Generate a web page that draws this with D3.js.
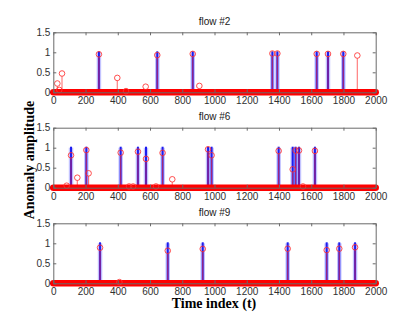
<!DOCTYPE html>
<html>
<head>
<meta charset="utf-8">
<script src="https://cdn.jsdelivr.net/npm/d3@7"></script>
<style>
  body { margin: 0; background: #fff; }
  svg { display: block; }
</style>
</head>
<body>
<div id="chart"></div>
<script>
// panel titles
const flowTitles = ["flow #2", "flow #6", "flow #9"];

// true anomaly positions (blue stems, amplitude 1)
const trueT2 = [283, 645, 865, 1359, 1390, 1634, 1704, 1799];
const trueT6 = [110, 205, 418, 525, 575, 678, 960, 982, 1398, 1485, 1503, 1524, 1623];
const trueT9 = [290, 710, 927, 1454, 1696, 1774, 1872];
const trueAmp = 1;

// estimated anomalies (red stems + circles)
const estT2 = [25, 37, 54, 283, 397, 451, 573, 645, 865, 906, 1359, 1390, 1634, 1704, 1799, 1886];
const estV2 = [0.22, 0.06, 0.47, 0.95, 0.36, 0.03, 0.14, 0.93, 0.96, 0.16, 0.97, 0.97, 0.96, 0.96, 0.96, 0.92];
const estT6 = [83, 110, 149, 205, 219, 418, 470, 495, 525, 575, 637, 678, 738, 960, 982, 1398, 1485, 1503, 1524, 1549, 1623];
const estV6 = [0.05, 0.81, 0.25, 0.94, 0.36, 0.875, 0.03, 0.03, 0.9, 0.72, 0.03, 0.87, 0.21, 0.96, 0.81, 0.92, 0.46, 0.93, 0.93, 0.03, 0.92];
const estT9 = [290, 410, 710, 927, 1454, 1696, 1774, 1872];
const estV9 = [0.89, 0.03, 0.815, 0.86, 0.865, 0.83, 0.865, 0.9];

// axis ticks
const xTicks = [0, 200, 400, 600, 800, 1000, 1200, 1400, 1600, 1800, 2000];
const yTicks = [0, 0.5, 1, 1.5];

const width = 415, height = 319;
const panelTops = [32.3, 127.7, 223.3];
const panelH = 60;

const panels = [
  {title: flowTitles[0], trueT: trueT2, estT: estT2, estV: estV2},
  {title: flowTitles[1], trueT: trueT6, estT: estT6, estV: estV6},
  {title: flowTitles[2], trueT: trueT9, estT: estT9, estV: estV9}
];

const svg = d3.select('#chart')
  .append('svg')
  .attr('width', width)
  .attr('height', height)
  .style('background', '#fff');

const x = d3.scaleLinear().domain([0, 2000]).range([53.3, 375.7]);

const tickFont = "'Liberation Sans Narrow', 'Liberation Sans', Arial, sans-serif";
const boxColor = '#6a6a6a';

panels.forEach((p, i) => {
  const top = panelTops[i];
  const y = d3.scaleLinear().domain([0, 1.5]).range([top + panelH, top]);
  const g = svg.append('g');

  // blue halo + core for true anomalies
  g.selectAll('line.halo')
    .data(p.trueT)
    .enter()
      .append('line')
      .attr('x1', d => x(d)).attr('x2', d => x(d))
      .attr('y1', y(0)).attr('y2', y(trueAmp))
      .attr('stroke', '#7a7aff')
      .attr('stroke-opacity', 0.45)
      .attr('stroke-width', 4.5);

  g.selectAll('line.core')
    .data(p.trueT)
    .enter()
      .append('line')
      .attr('x1', d => x(d)).attr('x2', d => x(d))
      .attr('y1', y(0)).attr('y2', y(trueAmp) - 1)
      .attr('stroke', '#1c1cf0')
      .attr('stroke-width', 2);

  const est = p.estT.map((t, k) => ({t: t, v: p.estV[k]}));

  // red stems
  g.selectAll('line.est')
    .data(est)
    .enter()
      .append('line')
      .attr('x1', d => x(d.t)).attr('x2', d => x(d.t))
      .attr('y1', y(0)).attr('y2', d => y(d.v) + 2.7)
      .attr('stroke', '#ff2a2a')
      .attr('stroke-opacity', 0.6)
      .attr('stroke-width', 1.2);

  // zero-valued markers form a solid red band
  g.append('line')
    .attr('x1', x(0)).attr('x2', x(2000))
    .attr('y1', y(0)).attr('y2', y(0))
    .attr('stroke', '#ff0000')
    .attr('stroke-width', 6.5)
    .attr('stroke-linecap', 'round');

  // red circles
  g.selectAll('circle')
    .data(est)
    .enter()
      .append('circle')
      .attr('cx', d => x(d.t))
      .attr('cy', d => y(d.v))
      .attr('r', 2.8)
      .attr('fill', 'none')
      .attr('stroke', '#ff3030')
      .attr('stroke-opacity', 0.85)
      .attr('stroke-width', 1);

  // axes box with inward ticks
  g.append('g')
    .attr('transform', `translate(0,${y(0)})`)
    .call(d3.axisBottom(x).tickValues(xTicks).tickSize(-3).tickSizeOuter(0).tickPadding(5).tickFormat(d => d));
  g.append('g')
    .attr('transform', `translate(0,${y(1.5)})`)
    .call(d3.axisTop(x).tickValues(xTicks).tickSize(-3).tickSizeOuter(0).tickFormat(''));
  g.append('g')
    .attr('transform', `translate(${x(0)},0)`)
    .call(d3.axisLeft(y).tickValues(yTicks).tickSize(-3).tickSizeOuter(0).tickPadding(3).tickFormat(d => d));
  g.append('g')
    .attr('transform', `translate(${x(2000)},0)`)
    .call(d3.axisRight(y).tickValues(yTicks).tickSize(-3).tickSizeOuter(0).tickFormat(''));

  g.selectAll('.domain').attr('stroke', boxColor).attr('stroke-width', 1);
  g.selectAll('.tick line').attr('stroke', boxColor);
  g.selectAll('.tick text')
    .attr('fill', '#303030')
    .style('font-family', tickFont)
    .style('font-size', '10px');

  // title
  g.append('text')
    .attr('x', (x(0) + x(2000)) / 2)
    .attr('y', top - 7.5)
    .attr('text-anchor', 'middle')
    .style('font-family', tickFont)
    .style('font-size', '10px')
    .attr('fill', '#202020')
    .text(p.title);
});

// axis labels
svg.append('text')
  .attr('x', 214)
  .attr('y', 308)
  .attr('text-anchor', 'middle')
  .style('font-family', "'Liberation Serif', 'Times New Roman', serif")
  .style('font-weight', 'bold')
  .style('font-size', '14px')
  .text('Time index (t)');

svg.append('text')
  .attr('transform', 'translate(34,160) rotate(-90)')
  .attr('text-anchor', 'middle')
  .style('font-family', "'Liberation Serif', 'Times New Roman', serif")
  .style('font-weight', 'bold')
  .style('font-size', '14px')
  .text('Anomaly amplitude');
</script>
</body>
</html>
